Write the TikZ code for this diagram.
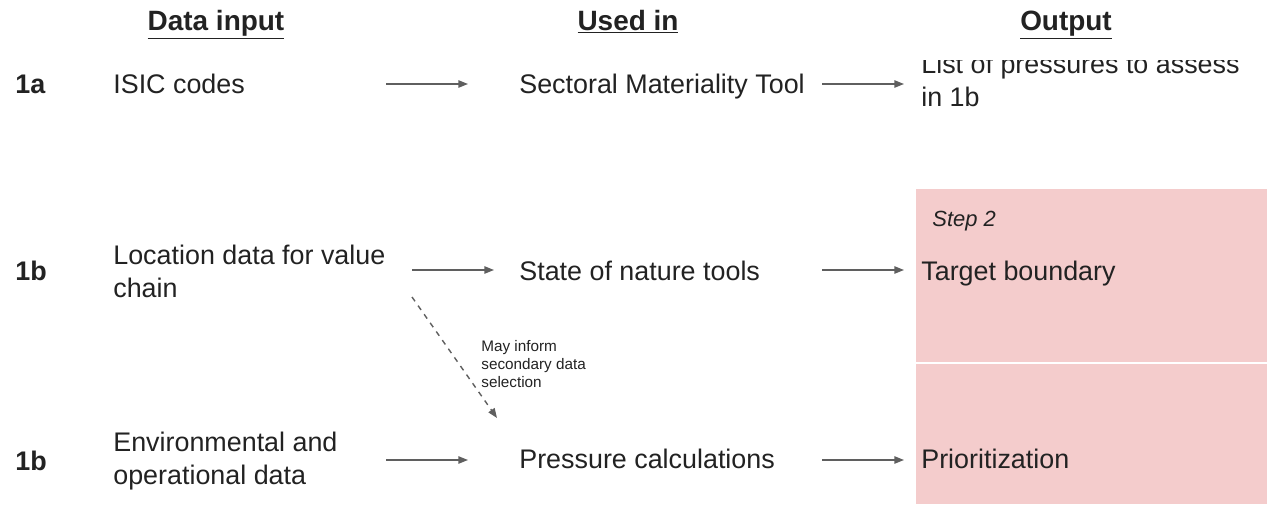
\documentclass[tikz,border=0pt]{standalone}
\usepackage{fontspec}
\setmainfont{Liberation Sans}
\usetikzlibrary{arrows.meta}
\definecolor{stepred}{HTML}{F4CCCC}
\definecolor{arrowgray}{HTML}{5F5F5F}
\definecolor{inktext}{HTML}{222222}

\begin{document}
\begin{tikzpicture}[x=0.02cm, y=-0.02cm,
    every node/.style={inner sep=0pt, text=inktext},
    head/.style={anchor=base, font=\fontsize{15.9}{19}\selectfont\bfseries},
    rowtag/.style={anchor=base west, font=\fontsize{15.3}{18.7}\selectfont\bfseries},
    body/.style={anchor=base west, align=left, font=\fontsize{15.3}{18.7}\selectfont},
    hint/.style={anchor=base west, align=left, font=\fontsize{8.7}{10.2}\selectfont},
    flow/.style={draw=arrowgray, line width=0.8pt, -{Triangle[length=5.5pt, width=4.2pt]}}]
        \useasboundingbox (0,0) rectangle (1267,504);

        % step 2 panel
        \fill[stepred] (916,189) rectangle (1267,504);
        \draw[white, line width=0.8pt] (916,363) -- (1267,363);

        % column heads
        \node[head] (hdata) at (216,30) {\underline{Data input}};
        \node[head] (hused) at (628,30) {\underline{Used in}};
        \node[head] (hout) at (1066,30) {\underline{Output}};

        % row tags
        \node[rowtag] (tag1a) at (15,93) {1a};
        \node[rowtag] (tag1b) at (15,280) {1b};
        \node[rowtag] (tag1c) at (15,470) {1b};

        % data input (base = last line)
        \node[body] (isic) at (113,93) {ISIC codes};
        \node[body] (loc) at (113,297) {Location data for value\\chain};
        \node[body] (env) at (113,484) {Environmental and\\operational data};

        % used in
        \node[body] (smt) at (519,93) {Sectoral Materiality Tool};
        \node[body] (son) at (519,280) {State of nature tools};
        \node[body] (press) at (519,468) {Pressure calculations};

        % output
        \begin{scope}
            \clip (900,60) rectangle (1267,130);
            \node[body] (plist) at (921,106) {List of pressures to assess\\in 1b};
        \end{scope}
        \node[anchor=base west, font=\fontsize{12.5}{15}\selectfont\itshape] (step) at (932,226) {Step 2};
        \node[body] (target) at (921,280) {Target boundary};
        \node[body] (prio) at (921,468) {Prioritization};

        % arrow ends
        \coordinate (isic-out) at (386,84);
        \coordinate (smt-in) at (468,84);
        \coordinate (smt-out) at (822,84);
        \coordinate (plist-in) at (904,84);
        \coordinate (loc-out) at (412,270);
        \coordinate (son-in) at (494,270);
        \coordinate (son-out) at (822,270);
        \coordinate (target-in) at (904,270);
        \coordinate (env-out) at (386,460);
        \coordinate (press-in) at (468,460);
        \coordinate (press-out) at (822,460);
        \coordinate (prio-in) at (904,460);
        \coordinate (loc-hint) at (412,297);
        \coordinate (press-hint) at (497,418);

        \draw[flow] (isic-out) -- (smt-in);
        \draw[flow] (smt-out) -- (plist-in);
        \draw[flow] (loc-out) -- (son-in);
        \draw[flow] (son-out) -- (target-in);
        \draw[flow] (env-out) -- (press-in);
        \draw[flow] (press-out) -- (prio-in);
        \draw[flow, dashed] (loc-hint) -- (press-hint);

        \node[hint] (mayinform) at (481,387) {May inform\\secondary data\\selection};
\end{tikzpicture}
\end{document}
